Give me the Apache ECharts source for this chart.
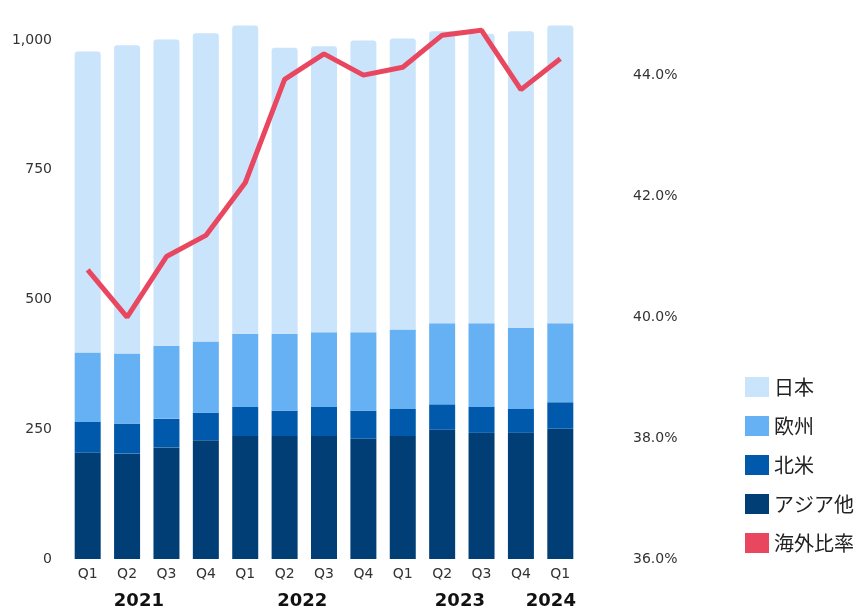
<!DOCTYPE html>
<html>
<head>
<meta charset="utf-8">
<script src="https://cdn.jsdelivr.net/npm/echarts@6/dist/echarts.min.js"></script>
<style>
  html, body { margin: 0; padding: 0; background: #fff; }
  #chart { width: 860px; height: 611px; }
</style>
</head>
<body>
<div id="chart"></div>
<script>
// 四半期ラベル
const quarters = ['Q1', 'Q2', 'Q3', 'Q4', 'Q1', 'Q2', 'Q3', 'Q4', 'Q1', 'Q2', 'Q3', 'Q4', 'Q1']
const years = ['2021', '2022', '2023', '2024']
// 年ラベルの位置 (カテゴリ番号)
const yearPositions = [1.3, 5.45, 9.45, 11.76]

// 地域別 (積み上げ)
const asia = [205, 203, 215, 229, 237, 237, 237, 232, 237, 249, 243, 243, 251]
const northAmerica = [59, 58, 55, 53, 56, 49, 56, 54, 52, 49, 50, 46, 51]
const europe = [134, 135, 141, 137, 141, 148, 144, 151, 153, 156, 161, 156, 152]
const japan = [580, 594, 590, 594, 594, 551, 551, 562, 561, 563, 558, 572, 574]
// 海外比率 (%)
const overseasRatio = [40.78, 40.0, 41.0, 41.35, 42.22, 43.93, 44.35, 44.0, 44.13, 44.66, 44.74, 43.76, 44.27]

const leftTicks = {min: 0, max: 1000, interval: 250}
const rightTicks = {min: 36, max: 44.58, interval: 2}

const colors = {
    japan: '#cae4fb',
    europe: '#66b1f3',
    northAmerica: '#0059aa',
    asia: '#003e75',
    ratio: '#e8475f'
}

const labelFont = 'DejaVu Sans'
const jpFont = '"Noto Sans CJK JP", sans-serif'

function barSeries(name, data, color, radius) {
    return {
        name: name,
        type: 'bar',
        stack: 'total',
        barWidth: 26,
        clip: false,
        data: data,
        itemStyle: {
            color: color,
            borderRadius: radius || 0
        }
    }
}

const chart = echarts.init(document.getElementById('chart'))

const option = {
    animation: false,
    grid: {left: 68, right: 280, top: 40, bottom: 52},
    legend: {
        orient: 'vertical',
        left: 740,
        top: 372,
        icon: 'rect',
        itemWidth: 24,
        itemHeight: 20,
        itemGap: 19,
        textStyle: {fontSize: 20, color: '#222', fontFamily: jpFont},
        data: ['日本', '欧州', '北米', 'アジア他', '海外比率']
    },
    xAxis: [
        {
            type: 'category',
            data: quarters,
            axisLine: {show: false},
            axisTick: {show: false},
            axisLabel: {
                margin: 8,
                fontSize: 14,
                color: '#333',
                fontFamily: labelFont
            }
        },
        {
            type: 'value',
            position: 'bottom',
            min: -0.5,
            max: quarters.length - 0.5,
            axisLine: {show: false},
            axisTick: {show: false},
            splitLine: {show: false},
            axisLabel: {
                customValues: yearPositions,
                margin: 33,
                fontSize: 18,
                fontWeight: 'bold',
                color: '#111',
                fontFamily: labelFont,
                formatter: (v) => {
                    const i = yearPositions.indexOf(v)
                    return i >= 0 ? years[i] : ''
                }
            }
        }
    ],
    yAxis: [
        {
            type: 'value',
            min: leftTicks.min,
            max: leftTicks.max,
            interval: leftTicks.interval,
            axisLine: {show: false},
            axisTick: {show: false},
            splitLine: {show: false},
            axisLabel: {
                margin: 16,
                fontSize: 14,
                color: '#333',
                fontFamily: labelFont,
                formatter: (v) => v.toLocaleString('en-US')
            }
        },
        {
            type: 'value',
            min: rightTicks.min,
            max: rightTicks.max,
            interval: rightTicks.interval,
            axisLine: {show: false},
            axisTick: {show: false},
            splitLine: {show: false},
            axisLabel: {
                margin: 53,
                fontSize: 14,
                color: '#333',
                fontFamily: labelFont,
                showMaxLabel: false,
                formatter: (v) => v.toFixed(1) + '%'
            }
        }
    ],
    series: [
        barSeries('アジア他', asia, colors.asia),
        barSeries('北米', northAmerica, colors.northAmerica),
        barSeries('欧州', europe, colors.europe),
        barSeries('日本', japan, colors.japan, [3, 3, 0, 0]),
        {
            name: '海外比率',
            type: 'line',
            yAxisIndex: 1,
            data: overseasRatio,
            clip: false,
            symbol: 'none',
            z: 5,
            lineStyle: {width: 5, color: colors.ratio},
            itemStyle: {color: colors.ratio}
        }
    ]
}

chart.setOption(option)
</script>
</body>
</html>
